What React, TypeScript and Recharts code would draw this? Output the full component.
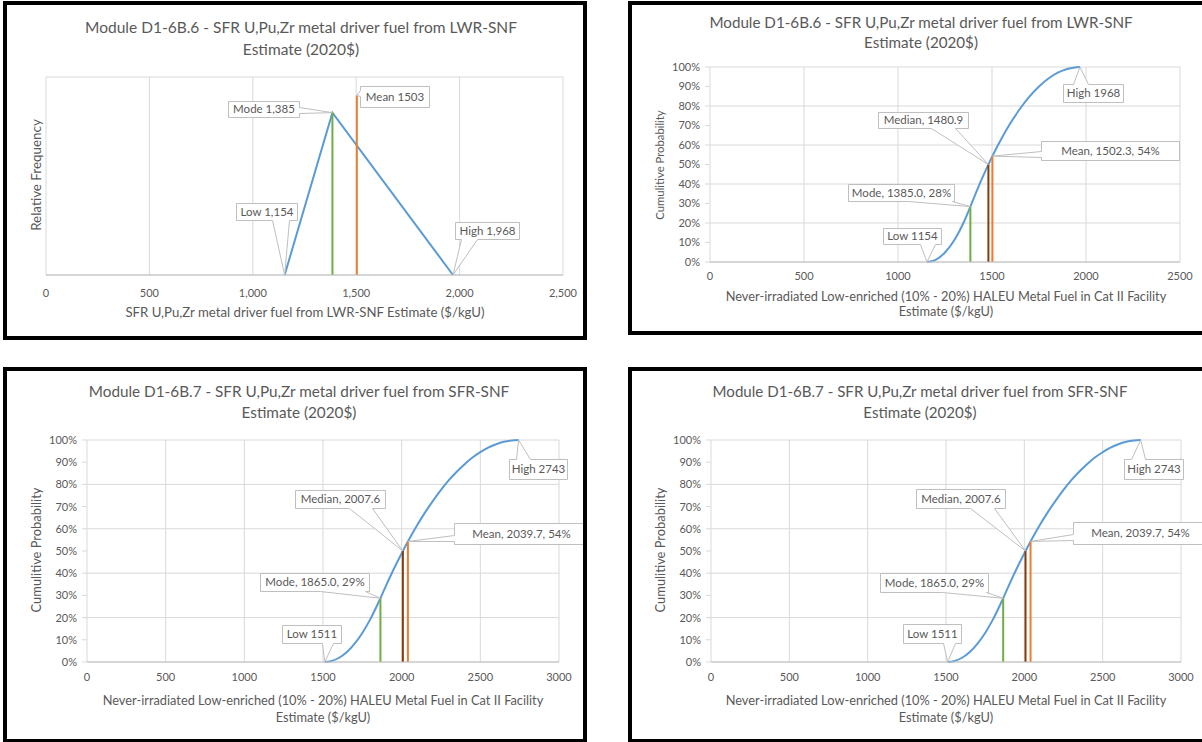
import { CartesianGrid, Line, LineChart, ReferenceDot, XAxis, YAxis } from 'recharts'

const FONT = 'Lato, "Liberation Sans", sans-serif'
const TEXT = '#595959'
const GRID = '#d9d9d9'
const BLUE = '#5b9bd5'
const GREEN = '#70ad47'
const BROWN = '#843c0c'
const ORANGE = '#ed7d31'

// D1-6B.6 relative frequency (triangle)
const triCost = [1154, 1385, 1968]
const triFreq = [0, 0.00246, 0]
const triMarkCost = [1385, 1503] // mode, mean
const triMarkFreq = [0.00246, 0.00272]
const triLabels = ['Low 1,154', 'Mode 1,385', 'Mean 1503', 'High 1,968']

// D1-6B.6 cumulative
const lwrCost = [1154, 1200, 1250, 1300, 1350, 1385, 1400, 1450, 1481, 1500, 1550, 1600, 1650, 1700, 1750, 1800, 1850, 1900, 1950, 1968]
const lwrProb = [0, 0.011, 0.049, 0.113, 0.204, 0.284, 0.32, 0.435, 0.5, 0.539, 0.632, 0.715, 0.787, 0.849, 0.9, 0.941, 0.971, 0.99, 0.999, 1]
const lwrMarkCost = [1385, 1480.9, 1502.3] // mode, median, mean
const lwrMarkProb = [0.284, 0.5, 0.543]
const lwrLabels = ['Low 1154', 'Mode, 1385.0, 28%', 'Median, 1480.9', 'Mean, 1502.3, 54%', 'High 1968']

// D1-6B.7 cumulative
const sfrCost = [1511, 1550, 1600, 1650, 1700, 1750, 1800, 1865, 1900, 1950, 2008, 2050, 2100, 2150, 2200, 2250, 2300, 2350, 2400, 2450, 2500, 2550, 2600, 2650, 2700, 2743]
const sfrProb = [0, 0.004, 0.018, 0.044, 0.082, 0.131, 0.192, 0.287, 0.343, 0.419, 0.5, 0.556, 0.618, 0.675, 0.727, 0.775, 0.819, 0.857, 0.891, 0.921, 0.945, 0.966, 0.981, 0.992, 0.998, 1]
const sfrMarkCost = [1865, 2007.6, 2039.7]
const sfrMarkProb = [0.287, 0.5, 0.543]
const sfrLabels = ['Low 1511', 'Mode, 1865.0, 29%', 'Median, 2007.6', 'Mean, 2039.7, 54%', 'High 2743']

const freqTicks = [0, 0.0005, 0.001, 0.0015, 0.002, 0.0025, 0.003]
const probTicks = [0, 0.1, 0.2, 0.3, 0.4, 0.5, 0.6, 0.7, 0.8, 0.9, 1]
const costTicks2500 = [0, 500, 1000, 1500, 2000, 2500]
const costTicks3000 = [0, 500, 1000, 1500, 2000, 2500, 3000]

const titleB6 = 'Module D1-6B.6 - SFR U,Pu,Zr metal driver fuel from LWR-SNF'
const titleB7 = 'Module D1-6B.7 - SFR U,Pu,Zr metal driver fuel from SFR-SNF'
const haleuLabel = 'Never-irradiated Low-enriched (10% - 20%) HALEU Metal Fuel in Cat II Facility'

type Side = 'top' | 'bottom' | 'left' | 'right'
type Box = { dx: number; dy: number; w: number; h: number; side: Side; b: [number, number] }

const pts = (xs: number[], ys: number[]) => xs.map((x, i) => ({ x, y: ys[i] }))
const stem = (x: number, y: number) => [{ x, y: 0 }, { x, y }]

function calloutPath(bx: number, by: number, w: number, h: number, side: Side, b: [number, number], tx: number, ty: number) {
  const p = [`M${bx},${by}`]
  if (side === 'top') p.push(`L${bx + b[0]},${by}`, `L${tx},${ty}`, `L${bx + b[1]},${by}`)
  p.push(`L${bx + w},${by}`)
  if (side === 'right') p.push(`L${bx + w},${by + b[0]}`, `L${tx},${ty}`, `L${bx + w},${by + b[1]}`)
  p.push(`L${bx + w},${by + h}`)
  if (side === 'bottom') p.push(`L${bx + b[1]},${by + h}`, `L${tx},${ty}`, `L${bx + b[0]},${by + h}`)
  p.push(`L${bx},${by + h}`)
  if (side === 'left') p.push(`L${bx},${by + b[1]}`, `L${tx},${ty}`, `L${bx},${by + b[0]}`)
  p.push('Z')
  return p.join(' ')
}

function calloutShape(text: string, box: Box) {
  return (props: any) => {
    const { cx, cy } = props
    const bx = Math.round(cx + box.dx) + 0.5
    const by = Math.round(cy + box.dy) + 0.5
    return (
      <g>
        <path d={calloutPath(bx, by, box.w, box.h, box.side, box.b, cx, cy)} fill="#fff" stroke="#bfbfbf" strokeWidth={1} />
        <text x={bx + box.w / 2} y={by + box.h / 2 + 1} textAnchor="middle" dominantBaseline="middle" fontSize={11.5} fontFamily={FONT} fill={TEXT}>
          {text}
        </text>
      </g>
    )
  }
}

const triBoxes: Box[] = [
  { dx: -49, dy: -72, w: 61, h: 17, side: 'bottom', b: [36, 53] },
  { dx: -104, dy: -12, w: 71, h: 16, side: 'right', b: [6, 12] },
  { dx: 3, dy: -9, w: 69, h: 21, side: 'left', b: [4, 10] },
  { dx: 2, dy: -53, w: 64, h: 17, side: 'bottom', b: [6, 22] },
]
const lwrBoxes: Box[] = [
  { dx: -44, dy: -34, w: 58, h: 16, side: 'bottom', b: [37, 52] },
  { dx: -122, dy: -23, w: 106, h: 17, side: 'bottom', b: [60, 104] },
  { dx: -110, dy: -53, w: 90, h: 16, side: 'bottom', b: [53, 77] },
  { dx: 49, dy: -15, w: 138, h: 19, side: 'left', b: [10, 16] },
  { dx: -17, dy: 17, w: 60, h: 18, side: 'top', b: [10, 25] },
]
const sfrBoxesL: Box[] = [
  { dx: -43, dy: -37, w: 59, h: 18, side: 'bottom', b: [40, 51] },
  { dx: -120, dy: -25, w: 109, h: 18, side: 'bottom', b: [60, 105] },
  { dx: -108, dy: -61, w: 90, h: 18, side: 'bottom', b: [54, 77] },
  { dx: 46, dy: -18, w: 134, h: 21, side: 'left', b: [12, 18] },
  { dx: -10, dy: 19, w: 58, h: 20, side: 'top', b: [7, 21] },
]
const sfrBoxesR: Box[] = [
  { dx: -45, dy: -38, w: 58, h: 19, side: 'bottom', b: [40, 52] },
  { dx: -123, dy: -25, w: 108, h: 19, side: 'bottom', b: [62, 106] },
  { dx: -110, dy: -62, w: 89, h: 19, side: 'bottom', b: [54, 78] },
  { dx: 42, dy: -19, w: 134, h: 22, side: 'left', b: [12, 18] },
  { dx: -17, dy: 19, w: 59, h: 20, side: 'top', b: [7, 21] },
]

type PanelProps = {
  left: number
  top: number
  width: number
  height: number
  margin: { top: number; right: number; bottom: number; left: number }
  xTicks: number[]
  xFormat: (v: number) => string
  xTickMargin: number
  yTicks: number[]
  yLabels: boolean
  curve: { x: number; y: number }[]
  curveType: 'linear' | 'monotone'
  stems: { data: { x: number; y: number }[]; color: string }[]
  anchors: { x: number; y: number }[]
  labels: string[]
  boxes: Box[]
}

function Panel(p: PanelProps) {
  const yMax = p.yTicks[p.yTicks.length - 1]
  return (
    <>
      <div style={{ position: 'absolute', left: p.left, top: p.top }}>
        <LineChart width={p.width} height={p.height} margin={p.margin}>
          <CartesianGrid stroke={GRID} />
          <XAxis
            dataKey="x"
            type="number"
            domain={[0, p.xTicks[p.xTicks.length - 1]]}
            ticks={p.xTicks}
            tickFormatter={p.xFormat}
            tickLine={false}
            tickMargin={p.xTickMargin}
            axisLine={{ stroke: '#bfbfbf' }}
            tick={{ fill: TEXT, fontSize: 11, fontFamily: FONT }}
            height={25}
          />
          <YAxis
            type="number"
            domain={[0, yMax]}
            ticks={p.yTicks}
            tickFormatter={(v: number) => `${Math.round(v * 100)}%`}
            tick={p.yLabels ? { fill: TEXT, fontSize: 11, fontFamily: FONT } : false}
            tickLine={p.yLabels ? { stroke: GRID } : false}
            tickSize={5}
            tickMargin={5}
            axisLine={false}
            width={p.yLabels ? 40 : 0}
          />
          <Line data={p.curve} dataKey="y" type={p.curveType} stroke={BLUE} strokeWidth={2} dot={false} activeDot={false} isAnimationActive={false} />
          {p.stems.map((s, i) => (
            <Line key={i} data={s.data} dataKey="y" type="linear" stroke={s.color} strokeWidth={2} dot={false} activeDot={false} isAnimationActive={false} />
          ))}
          {p.anchors.map((a, i) => (
            <ReferenceDot key={i} x={a.x} y={a.y} r={0} ifOverflow="visible" shape={calloutShape(p.labels[i], p.boxes[i])} />
          ))}
        </LineChart>
      </div>
      <div
        style={{
          position: 'absolute',
          left: p.left,
          top: p.top,
          width: p.width,
          height: p.height,
          border: '4px solid #000',
          boxSizing: 'border-box',
          pointerEvents: 'none',
        }}
      />
    </>
  )
}

function Txt({ x, y, size, text, rotate }: { x: number; y: number; size: number; text: string; rotate?: boolean }) {
  return (
    <div
      style={{
        position: 'absolute',
        left: x,
        top: y,
        transform: `translate(-50%, -50%)${rotate ? ' rotate(-90deg)' : ''}`,
        whiteSpace: 'nowrap',
        fontSize: size,
        fontFamily: FONT,
        color: TEXT,
        lineHeight: 1,
      }}
    >
      {text}
    </div>
  )
}

export default function App() {
  const lwrAnchors = [
    { x: lwrCost[0], y: 0 },
    ...lwrMarkCost.map((c, i) => ({ x: c, y: lwrMarkProb[i] })),
    { x: lwrCost[lwrCost.length - 1], y: 1 },
  ]
  const sfrAnchors = [
    { x: sfrCost[0], y: 0 },
    ...sfrMarkCost.map((c, i) => ({ x: c, y: sfrMarkProb[i] })),
    { x: sfrCost[sfrCost.length - 1], y: 1 },
  ]
  const triAnchors = [
    { x: triCost[0], y: 0 },
    { x: triMarkCost[0], y: triMarkFreq[0] },
    { x: triMarkCost[1], y: triMarkFreq[1] },
    { x: triCost[2], y: 0 },
  ]
  const markColors = [GREEN, BROWN, ORANGE]
  const lwrStems = lwrMarkCost.map((c, i) => ({ data: stem(c, lwrMarkProb[i]), color: markColors[i] }))
  const sfrStems = sfrMarkCost.map((c, i) => ({ data: stem(c, sfrMarkProb[i]), color: markColors[i] }))
  const triStems = [
    { data: stem(triMarkCost[0], triMarkFreq[0]), color: GREEN },
    { data: stem(triMarkCost[1], triMarkFreq[1]), color: ORANGE },
  ]
  const plain = (v: number) => String(v)
  const comma = (v: number) => v.toLocaleString('en-US')

  return (
    <div style={{ position: 'absolute', left: 0, top: 0, width: 1202, height: 742, overflow: 'hidden', background: '#fff' }}>
      <Panel
        left={3}
        top={1}
        width={584}
        height={339}
        margin={{ top: 76, right: 24, bottom: 40, left: 43 }}
        xTicks={costTicks2500}
        xFormat={comma}
        xTickMargin={8}
        yTicks={freqTicks}
        yLabels={false}
        curve={pts(triCost, triFreq)}
        curveType="linear"
        stems={triStems}
        anchors={triAnchors}
        labels={triLabels}
        boxes={triBoxes}
      />
      <Panel
        left={628}
        top={1}
        width={600}
        height={334}
        margin={{ top: 66, right: 48, bottom: 48, left: 42 }}
        xTicks={costTicks2500}
        xFormat={plain}
        xTickMargin={4}
        yTicks={probTicks}
        yLabels
        curve={pts(lwrCost, lwrProb)}
        curveType="monotone"
        stems={lwrStems}
        anchors={lwrAnchors}
        labels={lwrLabels}
        boxes={lwrBoxes}
      />
      <Panel
        left={3}
        top={367}
        width={584}
        height={376}
        margin={{ top: 73, right: 28, bottom: 56, left: 44 }}
        xTicks={costTicks3000}
        xFormat={plain}
        xTickMargin={5}
        yTicks={probTicks}
        yLabels
        curve={pts(sfrCost, sfrProb)}
        curveType="monotone"
        stems={sfrStems}
        anchors={sfrAnchors}
        labels={sfrLabels}
        boxes={sfrBoxesL}
      />
      <Panel
        left={628}
        top={367}
        width={600}
        height={376}
        margin={{ top: 73, right: 47, bottom: 56, left: 43 }}
        xTicks={costTicks3000}
        xFormat={plain}
        xTickMargin={5}
        yTicks={probTicks}
        yLabels
        curve={pts(sfrCost, sfrProb)}
        curveType="monotone"
        stems={sfrStems}
        anchors={sfrAnchors}
        labels={sfrLabels}
        boxes={sfrBoxesR}
      />

      <Txt x={301} y={28} size={15.5} text={titleB6} />
      <Txt x={301} y={50} size={15.5} text="Estimate (2020$)" />
      <Txt x={37} y={175} size={13.4} text="Relative Frequency" rotate />
      <Txt x={305} y={313} size={13.2} text="SFR U,Pu,Zr metal driver fuel from LWR-SNF Estimate ($/kgU)" />

      <Txt x={921} y={23} size={15.2} text={titleB6} />
      <Txt x={921} y={43} size={15.2} text="Estimate (2020$)" />
      <Txt x={660} y={165} size={11.3} text="Cumulitive Probability" rotate />
      <Txt x={946} y={296} size={12.8} text={haleuLabel} />
      <Txt x={946} y={311} size={12.8} text="Estimate ($/kgU)" />

      <Txt x={299} y={392} size={15.3} text={titleB7} />
      <Txt x={299} y={413} size={15.3} text="Estimate (2020$)" />
      <Txt x={36} y={550} size={12.9} text="Cumulitive Probability" rotate />
      <Txt x={323} y={700} size={12.8} text={haleuLabel} />
      <Txt x={323} y={717} size={12.8} text="Estimate ($/kgU)" />

      <Txt x={920} y={392} size={15.1} text={titleB7} />
      <Txt x={920} y={413} size={15.1} text="Estimate (2020$)" />
      <Txt x={660} y={550} size={12.9} text="Cumulitive Probability" rotate />
      <Txt x={946} y={700} size={12.8} text={haleuLabel} />
      <Txt x={946} y={717} size={12.8} text="Estimate ($/kgU)" />
    </div>
  )
}
